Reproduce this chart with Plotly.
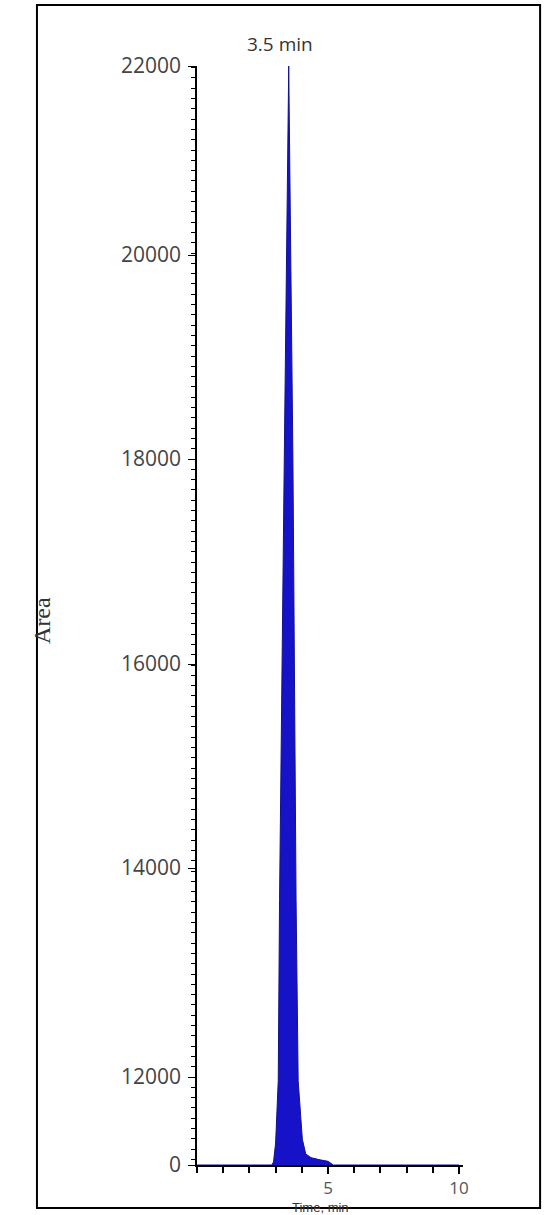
import numpy as np
import plotly.graph_objects as go

# --- data -------------------------------------------------------------
peak_time = [0.0, 2.85, 2.92, 3.0, 3.1, 3.15, 3.33, 3.5, 3.66, 3.78, 3.86, 4.02, 4.15, 4.35, 4.7, 5.0, 5.2, 10.0]
peak_area = [0, 0, 400, 3000, 11500, 13700, 18000, 22000, 18000, 13700, 11500, 3500, 1500, 1000, 700, 500, 0, 0]

y_tick_values = [0, 12000, 14000, 16000, 18000, 20000, 22000]
y_tick_labels = ["0", "12000", "14000", "16000", "18000", "20000", "22000"]
x_tick_values = [5, 10]
x_tick_labels = ["5", "10"]
peak_label = "3.5 min"
peak_label_time = 3.5

# broken (non-linear) y scale of the original: screen position of each tick value
y_scale_pos = [0, 88, 297, 501, 706, 910, 1099]


def to_screen(v):
    return np.interp(v, y_tick_values, y_scale_pos)


ys = to_screen(np.array(peak_area, dtype=float))

fig = go.Figure()
fig.add_trace(go.Scatter(
    x=peak_time, y=ys, mode="lines", fill="toself",
    fillcolor="#1612c8", line=dict(color="#12128f", width=1),
    hoverinfo="skip", showlegend=False,
))

W, H = 547, 1215
ml, mb, mt = 197, 50, 66
x_max = 10.15
plot_w = x_max * 26.2
plot_h = H - mt - mb
mr = W - ml - plot_w

tick_font = dict(family="Open Sans, Lato, sans-serif", size=21, color="#444444")

minor_vals = list(np.arange(y_scale_pos[1], y_scale_pos[-1] + 1, 10.3)) + \
    list(np.arange(y_scale_pos[1], 0, -10.3))

fig.update_layout(
    width=W, height=H,
    margin=dict(l=ml, r=mr, t=mt, b=mb),
    paper_bgcolor="white", plot_bgcolor="white",
    xaxis=dict(
        range=[0, x_max], showgrid=False, zeroline=False,
        showline=True, linecolor="black", linewidth=2,
        tickmode="array", tickvals=x_tick_values, ticktext=x_tick_labels,
        ticks="outside", ticklen=7, tickwidth=1.5, tickcolor="black",
        tickfont=dict(family="Open Sans, sans-serif", size=17, color="#555555"),
        minor=dict(tickmode="linear", tick0=0, dtick=1, ticks="outside",
                   ticklen=6, tickwidth=1.5, tickcolor="black"),
    ),
    yaxis=dict(
        range=[0, y_scale_pos[-1]], showgrid=False, zeroline=False,
        showline=True, linecolor="black", linewidth=1.5,
        tickmode="array", tickvals=y_scale_pos, ticktext=y_tick_labels,
        ticks="outside", ticklen=7, tickwidth=1.2, tickcolor="black",
        ticklabelstandoff=3,
        tickfont=tick_font,
        minor=dict(tickmode="array", tickvals=minor_vals, ticks="outside",
                   ticklen=4, tickwidth=1, tickcolor="black"),
    ),
)

# outer frame (pixel positions converted to paper fractions)
fig.add_shape(type="rect", xref="paper", yref="paper",
              x0=(37 - ml) / plot_w, x1=(540 - ml) / plot_w,
              y0=(H - mb - 1208) / plot_h, y1=(H - mb - 5) / plot_h,
              line=dict(color="black", width=2), layer="above")

fig.add_annotation(x=peak_label_time, y=y_scale_pos[-1], xref="x", yref="y",
                   text=peak_label, showarrow=False, yshift=22, xshift=-9,
                   font=dict(family="Open Sans, sans-serif", size=19, color="#333333"))

fig.add_annotation(x=(27 - ml) / plot_w, y=(H - mb - 620) / plot_h, xref="paper", yref="paper",
                   text="Area", showarrow=False, textangle=-90,
                   font=dict(family="Liberation Serif, serif", size=24, color="#333333"))

fig.add_annotation(x=(320 - ml) / plot_w, y=(H - mb - 1207) / plot_h, xref="paper", yref="paper",
                   text="Time, min", showarrow=False, yanchor="middle",
                   font=dict(family="Liberation Sans, Arial", size=13, color="#333333"))

fig.write_html("out.html", post_script="document.body.style.margin='0';",
               config={"displayModeBar": False})
